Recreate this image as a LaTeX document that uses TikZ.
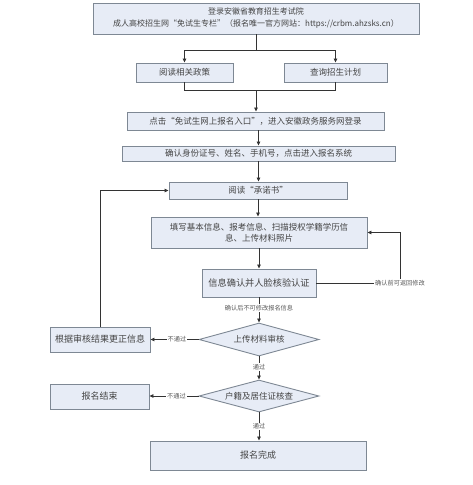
\documentclass[tikz,border=0pt]{standalone}
\usepackage{fontspec}
\setmainfont{Noto Sans CJK SC}
\usetikzlibrary{shapes.geometric,arrows.meta}
\definecolor{boxfill}{HTML}{E7ECF6}
\definecolor{boxline}{HTML}{7E8894}
\definecolor{txt}{HTML}{444444}
\begin{document}
\begin{tikzpicture}[x=1pt,y=-1pt,
  bx/.style={draw=boxline,fill=boxfill,line width=0.9pt,inner sep=0pt,align=center,text=txt,font=\fontsize{8.5}{11}\selectfont},
  dm/.style={diamond,draw=boxline,fill=boxfill,line width=0.9pt,inner sep=0pt,aspect=3.6,text=txt,font=\fontsize{8.5}{11}\selectfont},
  ln/.style={draw=black!80,line width=0.8pt},
  ar/.style={ln,-{Triangle[length=4pt,width=3.5pt]}},
  lbl/.style={fill=white,inner sep=1pt,text=black!65,font=\fontsize{6.2}{7}\selectfont}]
\useasboundingbox (0,0) rectangle (472,485);
\node[bx,minimum width=326pt,minimum height=31pt,font=\fontsize{8}{12}\selectfont] (top) at (256,18.5) {登录安徽省教育招生考试院\\成人高校招生网“免试生专栏”（报名唯一官方网站：https://crbm.ahzsks.cn）};
\node[bx,minimum width=97pt,minimum height=19pt] (b1) at (184.5,72.5) {阅读相关政策};
\node[bx,minimum width=103pt,minimum height=19pt] (b2) at (335.5,72.5) {查询招生计划};
\node[bx,minimum width=257pt,minimum height=18pt] (b3) at (255.5,121) {点击“免试生网上报名入口”，进入安徽政务服务网登录};
\node[bx,minimum width=273pt,minimum height=15pt] (b4) at (258.5,153.5) {确认身份证号、姓名、手机号，点击进入报名系统};
\node[bx,minimum width=178pt,minimum height=17pt] (b5) at (258,190.5) {阅读“承诺书”};
\node[bx,minimum width=216pt,minimum height=31pt] (b6) at (259,232.5) {填写基本信息、报考信息、扫描授权学籍学历信\\息、上传材料照片};
\node[bx,minimum width=114pt,minimum height=28pt,font=\fontsize{9.2}{11}\selectfont] (b7) at (259,283) {信息确认并人脸核验认证};
\node[dm,minimum width=120pt,minimum height=33pt] (d1) at (259,339.5) {上传材料审核};
\node[bx,minimum width=100pt,minimum height=25pt,font=\fontsize{9}{11}\selectfont] (l1) at (100,339.5) {根据审核结果更正信息};
\node[dm,minimum width=120pt,minimum height=32pt] (d2) at (259,396) {户籍及居住证核查};
\node[bx,minimum width=99pt,minimum height=25pt,font=\fontsize{9}{11}\selectfont] (l2) at (99.5,396.5) {报名结束};
\node[bx,minimum width=216pt,minimum height=29pt,font=\fontsize{9}{11}\selectfont] (b8) at (258,455.5) {报名完成};
% top split
\coordinate (j1) at (256,50);
\draw[ln] (top.south) -- (j1);
\draw[ar] (j1) -| (b1.north);
\draw[ar] (j1) -| (b2.north);
% join
\coordinate (j2) at (256,90);
\draw[ln] (b1.south) |- (j2);
\draw[ln] (b2.south) |- (j2);
\draw[ar] (j2) -- (j2 |- b3.north);
\draw[ar] (b3.south -| b4.north) -- (b4.north);
\draw[ar] (b4.south) -- (b4.south |- b5.north);
\draw[ar] (b5.south) -- (b5.south |- b6.north);
\draw[ar] (b6.south) -- (b7.north);
\draw[ar] (b7.south) -- node[lbl,pos=0.42] (t1) {确认后不可修改报名信息} (d1.north);
% back loop from b7 to b6
\coordinate (c1) at (400,283);
\draw[ar] (b7.east) -- (c1) |- (b6.east);
\node[lbl] (t2) at (c1) {确认前可返回修改};
% d1 branches
\draw[ar] (d1.west) -- node[lbl,pos=0.45] (t3) {不通过} (l1.east);
\draw[ar] (d1.south) -- node[lbl,pos=0.45] (t4) {通过} (d2.north);
\coordinate (c2) at (100,190.5);
\draw[ar] (l1.north) -- (c2) -- (b5.west);
% d2 branches
\draw[ar] (d2.west) -- node[lbl,pos=0.45] (t5) {不通过} (l2.east |- d2.west);
\draw[ar] (d2.south) -- node[lbl,pos=0.5] (t6) {通过} (d2.south |- b8.north);
\end{tikzpicture}
\end{document}
